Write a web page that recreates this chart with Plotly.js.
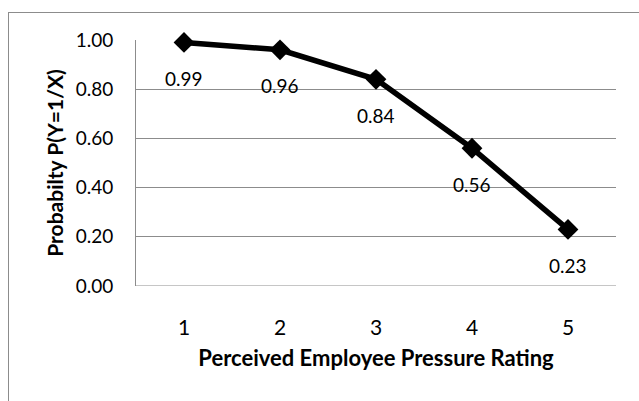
<!DOCTYPE html>
<html>
<head>
<meta charset="utf-8">
<script src="https://cdn.plot.ly/plotly-3.0.1.min.js"></script>
<style>
html,body{margin:0;padding:0;background:#fff;}
#wrap{position:relative;width:639px;height:401px;overflow:hidden;}
#frame{position:absolute;left:8px;top:12px;width:700px;height:500px;border-left:1px solid #8c8c8c;border-top:1px solid #8c8c8c;}
#chart{position:absolute;left:0;top:0;width:639px;height:401px;}
</style>
</head>
<body>
<div id="wrap"><div id="frame"></div><div id="chart"></div></div>
<script>
const categories = ["1", "2", "3", "4", "5"];
const probabilities = [0.99, 0.96, 0.84, 0.56, 0.23];
const dataLabels = ["0.99", "0.96", "0.84", "0.56", "0.23"];
const yTickValues = [0, 0.2, 0.4, 0.6, 0.8, 1.0];
const yTickLabels = ["0.00", "0.20", "0.40", "0.60", "0.80", "1.00"];

const FONT = "Lato, 'Open Sans', sans-serif";

const trace = {
  x: categories,
  y: probabilities,
  type: "scatter",
  mode: "lines+markers",
  cliponaxis: false,
  line: {color: "#000000", width: 5.5},
  marker: {symbol: "diamond", size: 16, color: "#000000"},
  hoverinfo: "skip"
};

const annotations = categories.map((c, i) => ({
  x: i, y: probabilities[i], xref: "x", yref: "y",
  text: dataLabels[i], showarrow: false, yshift: -36,
  font: {family: FONT, size: 19, color: "#000000"}
}));

const layout = {
  width: 639, height: 401,
  margin: {l: 136, r: 23, t: 40, b: 115},
  paper_bgcolor: "rgba(0,0,0,0)",
  plot_bgcolor: "rgba(0,0,0,0)",
  showlegend: false,
  font: {family: FONT, color: "#000000"},
  xaxis: {
    type: "category",
    range: [-0.5, 4.5],
    showgrid: false,
    zeroline: false,
    showline: false,
    ticks: "",
    ticklabelstandoff: 27,
    tickfont: {family: FONT, size: 21, color: "#000000"},
    title: {text: "<b>Perceived Employee Pressure Rating</b>", font: {family: FONT, size: 22, color: "#000000"}, standoff: 12}
  },
  yaxis: {
    range: [0, 1.0],
    tickvals: yTickValues,
    ticktext: yTickLabels,
    showgrid: true,
    gridcolor: "#8c8c8c",
    gridwidth: 1,
    zeroline: false,
    showline: true,
    linecolor: "#8c8c8c",
    linewidth: 1,
    ticks: "",
    ticklabelstandoff: 18,
    tickfont: {family: FONT, size: 19, color: "#000000"},
    title: {text: "<b>Probabilty P(Y=1/X)</b>", font: {family: FONT, size: 21, color: "#000000"}, standoff: 6}
  },
  annotations: annotations,
  shapes: [{type: "line", xref: "paper", yref: "y", x0: 0, x1: 1, y0: 0, y1: 0, line: {color: "#8c8c8c", width: 1}, layer: "below"}]
};

Plotly.newPlot("chart", [trace], layout, {displayModeBar: false, staticPlot: true});
</script>
</body>
</html>
